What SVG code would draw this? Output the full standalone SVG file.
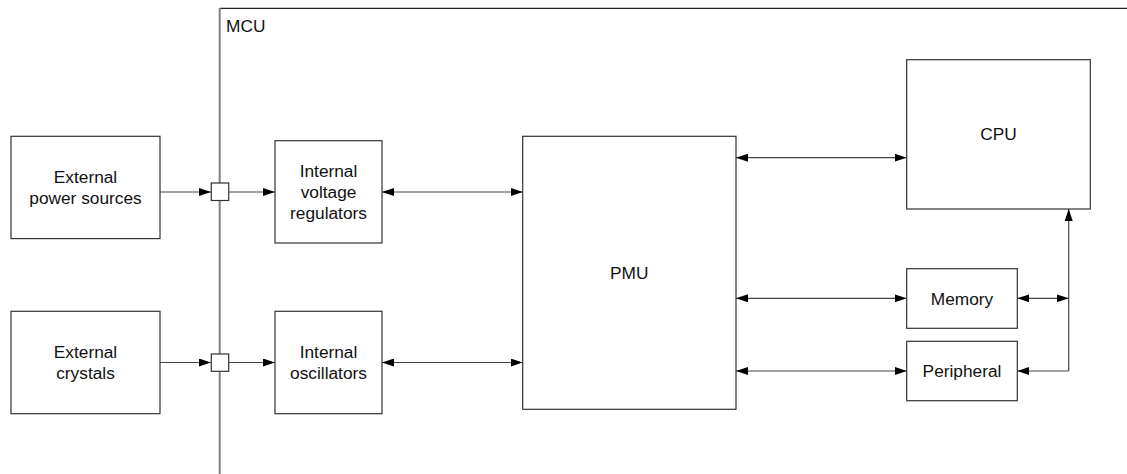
<svg xmlns="http://www.w3.org/2000/svg" width="1127" height="474" viewBox="0 0 1127 474">
<style>
.box{fill:#fff;stroke:#333;stroke-width:1.2}
.lbl{font-family:"Liberation Sans",Arial,sans-serif;font-size:17.3px;fill:#111;text-anchor:middle}
.cn{fill:none;stroke:#444;stroke-width:1.2}
</style>
<defs>
<marker id="ah" viewBox="0 0 12 8" refX="12" refY="4" markerWidth="12" markerHeight="8" markerUnits="userSpaceOnUse" orient="auto-start-reverse">
<path d="M0,0 L12,4 L0,8 Z" fill="#000"/>
</marker>
</defs>
<rect width="1127" height="474" fill="#fff"/>
<g id="mcu">
<line x1="219.7" y1="8.3" x2="1127" y2="8.3" stroke="#222" stroke-width="1.3"/>
<line x1="219.7" y1="8" x2="219.7" y2="474" stroke="#808080" stroke-width="2"/>
<text class="lbl" x="226" y="31.5" style="text-anchor:start">MCU</text>
</g>
<g id="connectors">
<line class="cn" x1="160" y1="192" x2="211" y2="192" marker-end="url(#ah)"/>
<line class="cn" x1="228.5" y1="192" x2="275" y2="192" marker-end="url(#ah)"/>
<line class="cn" x1="160" y1="362.5" x2="211" y2="362.5" marker-end="url(#ah)"/>
<line class="cn" x1="228.5" y1="362.5" x2="275" y2="362.5" marker-end="url(#ah)"/>
<line class="cn" x1="382" y1="192" x2="522.7" y2="192" marker-start="url(#ah)" marker-end="url(#ah)"/>
<line class="cn" x1="382" y1="362.5" x2="522.7" y2="362.5" marker-start="url(#ah)" marker-end="url(#ah)"/>
<line class="cn" x1="736" y1="157.7" x2="906.7" y2="157.7" marker-start="url(#ah)" marker-end="url(#ah)"/>
<line class="cn" x1="736" y1="298.3" x2="906.7" y2="298.3" marker-start="url(#ah)" marker-end="url(#ah)"/>
<line class="cn" x1="736" y1="371" x2="906.7" y2="371" marker-start="url(#ah)" marker-end="url(#ah)"/>
<line class="cn" x1="1017.3" y1="298.3" x2="1068.7" y2="298.3" marker-start="url(#ah)" marker-end="url(#ah)"/>
<path class="cn" d="M1068.7,371 L1068.7,209" marker-end="url(#ah)"/>
<path class="cn" d="M1068.7,371 L1017.3,371" marker-end="url(#ah)"/>
</g>
<g id="port1"><rect class="box" x="211.3" y="183" width="17.4" height="17.5"/></g>
<g id="port2"><rect class="box" x="211.3" y="354" width="17.4" height="17.3"/></g>
<g id="ext-power">
<rect class="box" x="11" y="136.3" width="149" height="102.3"/>
<text class="lbl" x="85.5" y="182.5">External</text>
<text class="lbl" x="85.5" y="203.8">power sources</text>
</g>
<g id="ext-crystals">
<rect class="box" x="11" y="311.3" width="149" height="102.4"/>
<text class="lbl" x="85.5" y="357.5">External</text>
<text class="lbl" x="85.5" y="378.8">crystals</text>
</g>
<g id="int-vreg">
<rect class="box" x="275" y="140.7" width="107" height="102.3"/>
<text class="lbl" x="328.5" y="176.7">Internal</text>
<text class="lbl" x="328.5" y="198">voltage</text>
<text class="lbl" x="328.5" y="219.3">regulators</text>
</g>
<g id="int-osc">
<rect class="box" x="275" y="311.3" width="107" height="102.4"/>
<text class="lbl" x="328.5" y="357.5">Internal</text>
<text class="lbl" x="328.5" y="378.8">oscillators</text>
</g>
<g id="pmu">
<rect class="box" x="522.7" y="136.3" width="213.3" height="273"/>
<text class="lbl" x="629.3" y="279">PMU</text>
</g>
<g id="cpu">
<rect class="box" x="906.7" y="59.7" width="183.6" height="149.3"/>
<text class="lbl" x="998.5" y="140">CPU</text>
</g>
<g id="memory">
<rect class="box" x="906.7" y="268.7" width="110.6" height="59.6"/>
<text class="lbl" x="962" y="304.5">Memory</text>
</g>
<g id="peripheral">
<rect class="box" x="906.7" y="341.3" width="110.6" height="59.4"/>
<text class="lbl" x="962" y="377">Peripheral</text>
</g>
</svg>
